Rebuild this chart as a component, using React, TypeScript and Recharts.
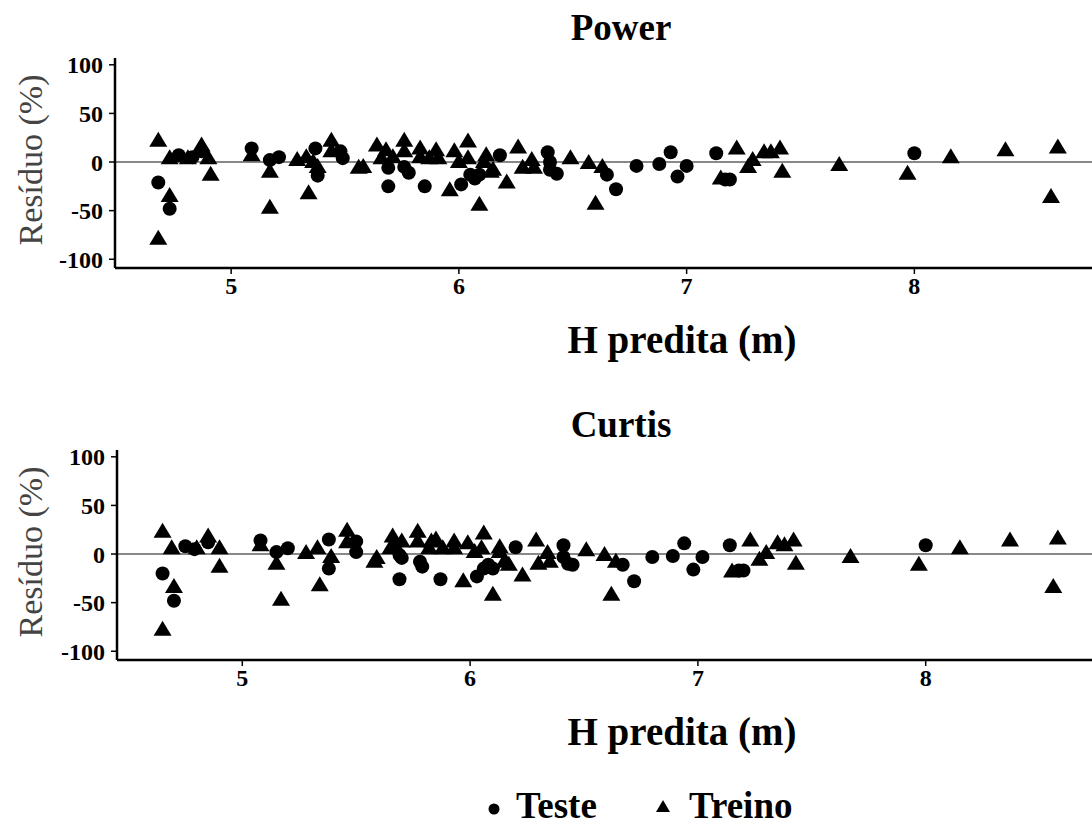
import React from "react";
import {
  ReferenceLine,
  Scatter,
  ScatterChart,
  XAxis,
  YAxis,
} from "recharts";

type Pt = { x: number; y: number };

const FONT = '"Liberation Serif", "Times New Roman", serif';

const xTicks = [5, 6, 7, 8];
const yTicks = [-100, -50, 0, 50, 100];

// Power model: [H predita, residuo %]
const powerTeste: [number, number][] = [
  [4.68, -21], [4.73, -48], [4.77, 7], [4.83, 5], [4.87, 11], [5.09, 14],
  [5.17, 2], [5.21, 5], [5.37, 14], [5.38, -14], [5.48, 11], [5.49, 4],
  [5.69, -6], [5.69, -25], [5.76, -5], [5.78, -11], [5.85, -25], [6.01, -23],
  [6.05, -13], [6.07, -17], [6.09, -13], [6.18, 7], [6.39, 10], [6.4, 0],
  [6.4, -8], [6.43, -12], [6.65, -13], [6.69, -28], [6.78, -4], [6.88, -2],
  [6.93, 10], [6.96, -15], [7.0, -4], [7.13, 9], [7.17, -18], [7.19, -18],
  [8.0, 9],
];

const powerTreino: [number, number][] = [
  [4.68, 22], [4.68, -79], [4.73, -35], [4.73, 4], [4.81, 4], [4.87, 17],
  [4.9, 4], [4.91, -13], [5.09, 7], [5.17, -10], [5.17, -47], [5.29, 2],
  [5.33, 5], [5.34, -32], [5.36, 0], [5.38, -5], [5.44, 22], [5.44, 11],
  [5.56, -6], [5.58, -5], [5.64, 17], [5.66, 4], [5.68, 12], [5.71, 5],
  [5.76, 22], [5.76, 11], [5.83, 14], [5.83, 5], [5.87, 4], [5.9, 12],
  [5.91, 4], [5.96, -29], [5.98, 11], [6.0, 0], [6.04, 21], [6.04, 4],
  [6.09, -44], [6.11, 0], [6.12, 7], [6.14, -10], [6.15, -8], [6.21, -21],
  [6.26, 15], [6.28, -6], [6.32, 2], [6.33, -6], [6.49, 4], [6.57, -1],
  [6.6, -43], [6.63, -5], [7.15, -17], [7.22, 14], [7.27, -5], [7.29, 2],
  [7.34, 10], [7.37, 10], [7.41, 14], [7.42, -10], [7.67, -3], [7.97, -12],
  [8.16, 5], [8.4, 12], [8.63, 15], [8.6, -36],
];

// Curtis model
const curtisTeste: [number, number][] = [
  [4.65, -20], [4.7, -48], [4.75, 8], [4.79, 5], [4.85, 12], [5.08, 14],
  [5.15, 2], [5.2, 6], [5.38, 15], [5.38, -15], [5.5, 13], [5.5, 2],
  [5.69, -1], [5.7, -4], [5.69, -26], [5.78, -8], [5.79, -13], [5.87, -26],
  [6.03, -23], [6.06, -15], [6.08, -11], [6.1, -15], [6.2, 7], [6.41, 9],
  [6.41, -3], [6.43, -10], [6.45, -11], [6.67, -11], [6.72, -28], [6.8, -3],
  [6.89, -2], [6.94, 11], [6.98, -16], [7.02, -3], [7.14, 9], [7.18, -17],
  [7.2, -17], [8.0, 9],
];

const curtisTreino: [number, number][] = [
  [4.65, 23], [4.65, -78], [4.7, -34], [4.69, 6], [4.8, 6], [4.85, 18],
  [4.9, 6], [4.9, -13], [5.08, 9], [5.15, -10], [5.17, -47], [5.28, 1],
  [5.33, 6], [5.34, -32], [5.39, -3], [5.46, 24], [5.46, 12], [5.58, -8],
  [5.59, -4], [5.65, 6], [5.66, 18], [5.67, 9], [5.7, 13], [5.77, 23],
  [5.77, 13], [5.82, 6], [5.83, 13], [5.85, 15], [5.88, 6], [5.93, 13],
  [5.93, 6], [5.97, -28], [5.99, 11], [6.02, 2], [6.05, 6], [6.06, 21],
  [6.1, -42], [6.13, 7], [6.13, 2], [6.15, -8], [6.17, -11], [6.23, -22],
  [6.29, 14], [6.3, -10], [6.34, 1], [6.35, -8], [6.51, 4], [6.59, -1],
  [6.62, -42], [6.64, -8], [7.15, -18], [7.23, 14], [7.27, -6], [7.3, 1],
  [7.35, 11], [7.38, 9], [7.42, 14], [7.43, -10], [7.67, -3], [7.97, -11],
  [8.15, 6], [8.37, 14], [8.58, 16], [8.56, -34],
];

const toPts = (arr: [number, number][]): Pt[] => arr.map(([x, y]) => ({ x, y }));

const Dot = (props: any) => (
  <circle cx={props.cx} cy={props.cy} r={7} fill="#000" />
);

const Tri = (props: any) => {
  const { cx, cy } = props;
  return (
    <polygon
      points={`${cx},${cy - 9} ${cx + 9},${cy + 6} ${cx - 9},${cy + 6}`}
      fill="#000"
    />
  );
};

const tickStyle = {
  fill: "#000",
  fontSize: 24,
  fontWeight: "bold" as const,
  fontFamily: FONT,
};

function Panel({
  top,
  title,
  titleTop,
  yWidth,
  xDomain,
  teste,
  treino,
}: {
  top: number;
  title: string;
  titleTop: number;
  yWidth: number;
  xDomain: [number, number];
  teste: [number, number][];
  treino: [number, number][];
}) {
  return (
    <div style={{ position: "absolute", left: 0, top, width: 1092, height: 370 }}>
      <div
        style={{
          position: "absolute",
          left: 0,
          width: 1242,
          top: titleTop,
          textAlign: "center",
          fontFamily: FONT,
          fontWeight: "bold",
          fontSize: 37,
          lineHeight: "40px",
        }}
      >
        {title}
      </div>
      <div
        style={{
          position: "absolute",
          left: 31,
          top: 160,
          transform: "translate(-50%, -50%) rotate(-90deg)",
          whiteSpace: "nowrap",
          fontFamily: FONT,
          fontSize: 34,
          color: "#444",
        }}
      >
        Resíduo (%)
      </div>
      <div style={{ position: "absolute", left: 0, top: 0 }}>
        <ScatterChart
          width={1092}
          height={298}
          margin={{ top: 58, right: 0, bottom: 0, left: 0 }}
        >
          <XAxis
            type="number"
            dataKey="x"
            domain={xDomain}
            allowDataOverflow
            ticks={xTicks}
            tick={tickStyle}
            tickLine={{ stroke: "#000", strokeWidth: 1.5 }}
            axisLine={{ stroke: "#000", strokeWidth: 2.5 }}
            tickSize={6}
            tickMargin={3}
            height={30}
          />
          <YAxis
            type="number"
            dataKey="y"
            domain={[-109, 107]}
            allowDataOverflow
            ticks={yTicks}
            tick={tickStyle}
            tickLine={{ stroke: "#000", strokeWidth: 1.5 }}
            axisLine={{ stroke: "#000", strokeWidth: 2.5 }}
            tickSize={6}
            tickMargin={6}
            width={yWidth}
          />
          <ReferenceLine y={0} stroke="#888" strokeWidth={2} />
          <Scatter
            name="Treino"
            data={toPts(treino)}
            shape={Tri}
            isAnimationActive={false}
          />
          <Scatter
            name="Teste"
            data={toPts(teste)}
            shape={Dot}
            isAnimationActive={false}
          />
        </ScatterChart>
      </div>
      <div
        style={{
          position: "absolute",
          left: 0,
          width: 1364,
          top: 320,
          textAlign: "center",
          fontFamily: FONT,
          fontWeight: "bold",
          fontSize: 39,
          lineHeight: "40px",
        }}
      >
        H predita (m)
      </div>
    </div>
  );
}

const legendText = {
  position: "absolute" as const,
  top: 0,
  fontFamily: FONT,
  fontWeight: "bold" as const,
  fontSize: 37,
  lineHeight: "34px",
  whiteSpace: "nowrap" as const,
};

export default function App() {
  return (
    <div
      style={{
        position: "absolute",
        left: 0,
        top: 0,
        width: 1092,
        height: 829,
        background: "#fff",
        overflow: "hidden",
      }}
    >
      <Panel
        top={0}
        title="Power"
        titleTop={8}
        yWidth={115}
        xDomain={[4.49, 8.78]}
        teste={powerTeste}
        treino={powerTreino}
      />
      <Panel
        top={392}
        title="Curtis"
        titleTop={13}
        yWidth={117}
        xDomain={[4.45, 8.73]}
        teste={curtisTeste}
        treino={curtisTreino}
      />
      <div style={{ position: "absolute", top: 789, left: 0, width: 1092, height: 40 }}>
        <svg
          width={20}
          height={20}
          style={{ position: "absolute", left: 484, top: 10 }}
        >
          <circle cx={10} cy={10} r={5.5} fill="#000" />
        </svg>
        <span style={{ ...legendText, left: 516 }}>Teste</span>
        <svg
          width={20}
          height={20}
          style={{ position: "absolute", left: 653, top: 8 }}
        >
          <polygon points="10,3 17,15 3,15" fill="#000" />
        </svg>
        <span style={{ ...legendText, left: 689 }}>Treino</span>
      </div>
    </div>
  );
}
